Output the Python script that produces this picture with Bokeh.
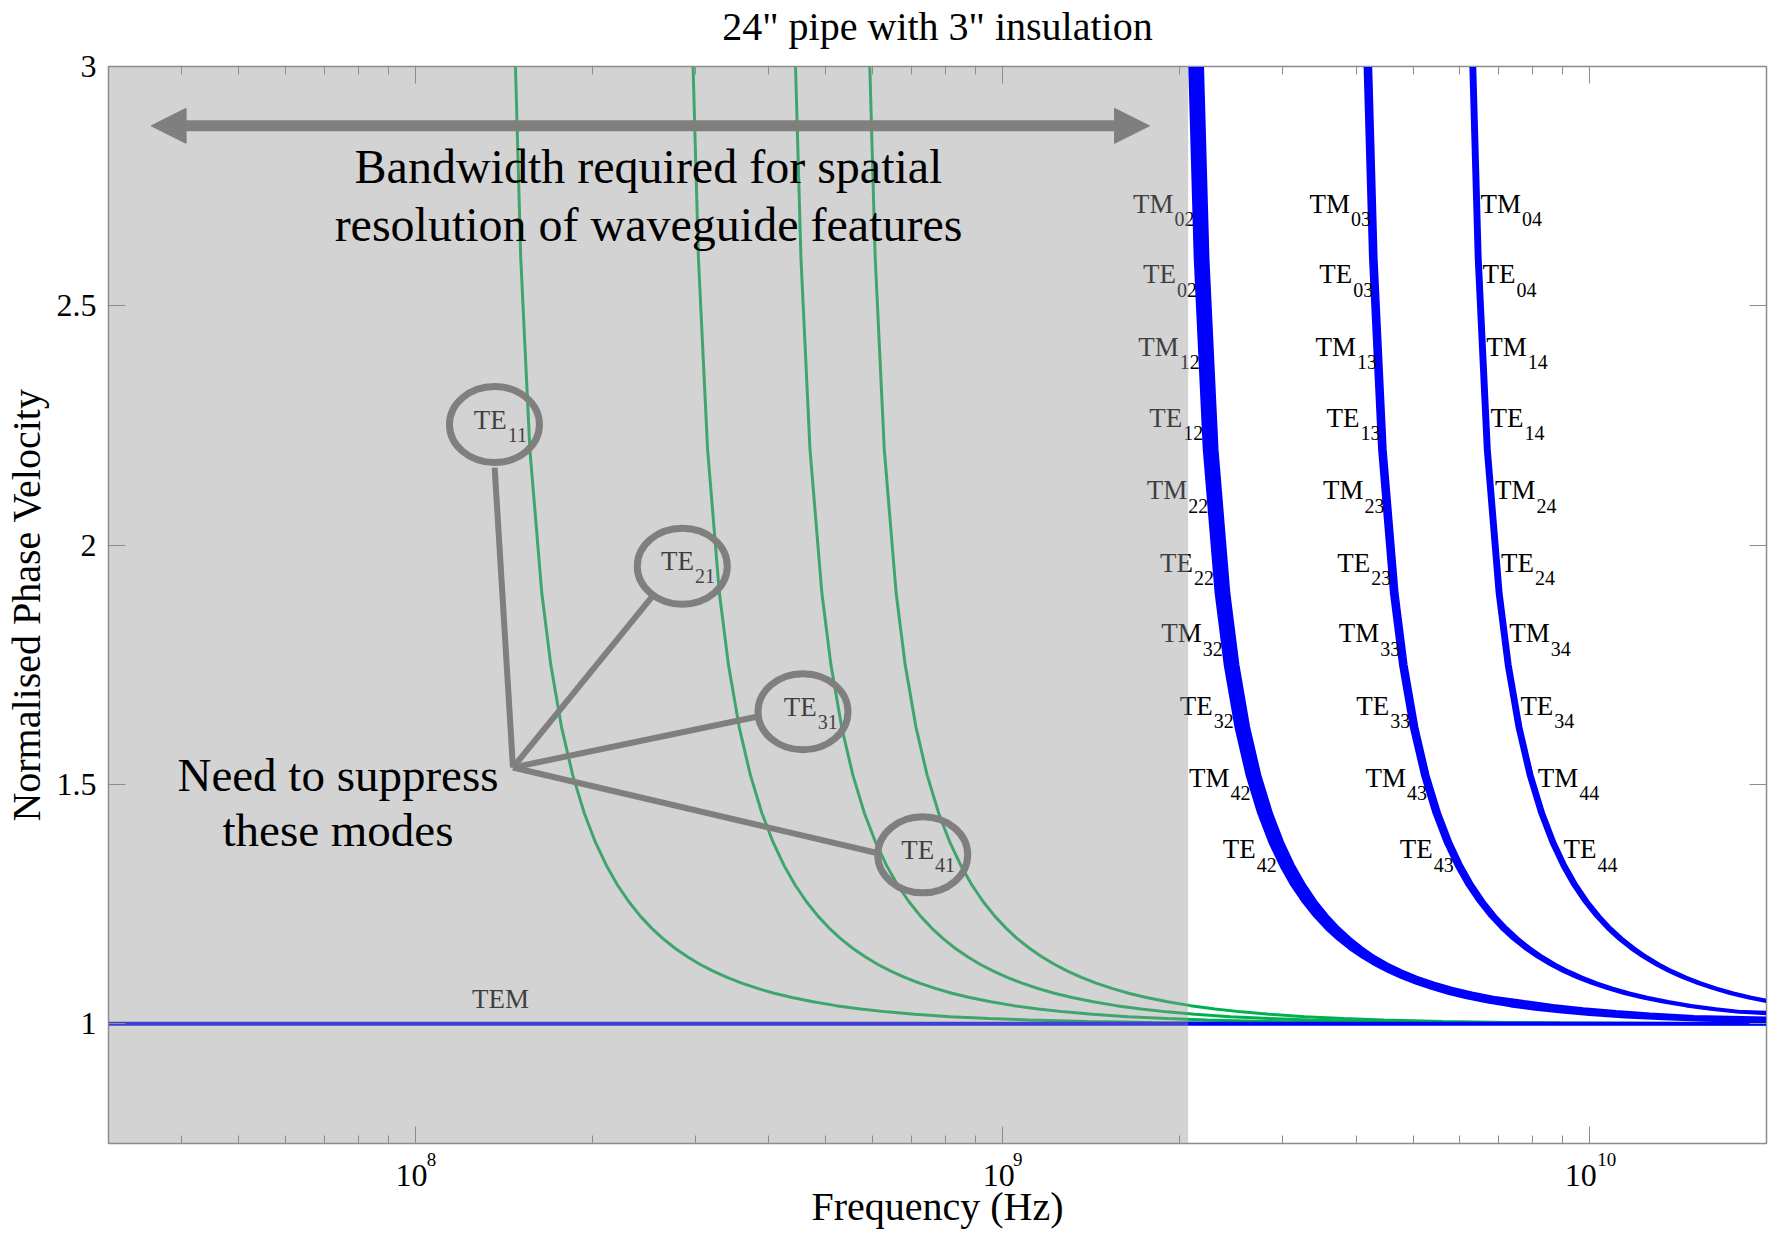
import math
from bokeh.plotting import figure
from bokeh.models import (FixedTicker, LogAxis, LinearAxis, Title,
                          Arrow, NormalHead, Range1d)
from bokeh.core.properties import value
from bokeh.embed import file_html
from bokeh.resources import INLINE

# ---------------- data ----------------
TITLE = '24" pipe with 3" insulation'
X_LABEL = "Frequency (Hz)"
Y_LABEL = "Normalised Phase Velocity"

X_RANGE_GHZ = [0.03, 20.0]
Y_RANGE = [0.75, 3.0]
X_TICKS_GHZ = [0.1, 1.0, 10.0]
X_TICK_BASE = ["10", "10", "10"]
X_TICK_EXP = ["8", "9", "10"]
X_MINOR_GHZ = [0.03, 0.04, 0.05, 0.06, 0.07, 0.08, 0.09,
               0.2, 0.3, 0.4, 0.5, 0.6, 0.7, 0.8, 0.9,
               2.0, 3.0, 4.0, 5.0, 6.0, 7.0, 8.0, 9.0]
Y_TICKS = [1.0, 1.5, 2.0, 2.5, 3.0]
Y_TICK_LABELS = ["1", "1.5", "2", "2.5", "3"]

# normalised phase velocity levels at which the curve frequencies (GHz) were read
VEL = [3.3, 3.0, 2.6, 2.2, 1.9, 1.75, 1.62, 1.52, 1.44, 1.38, 1.33, 1.29,
       1.255, 1.225, 1.2, 1.178, 1.158, 1.14, 1.124, 1.11, 1.097, 1.085, 1.074, 1.064,
       1.055, 1.046, 1.038, 1.031, 1.025, 1.02, 1.015, 1.011, 1.008, 1.005, 1.003, 1.002]
EDGE_F_GHZ = 20.0   # right edge of the plot

# green modes TE11..TE41
TE11_F = [0.1464, 0.1480, 0.1511, 0.1566, 0.1641, 0.1700, 0.1773, 0.1852, 0.1939,
          0.2024, 0.2116, 0.2208, 0.2309, 0.2415, 0.2524, 0.2639, 0.2767, 0.2905,
          0.3055, 0.3214, 0.3393, 0.3595, 0.3824, 0.4084, 0.4378, 0.4756, 0.5203,
          0.5732, 0.6355, 0.7079, 0.8145, 0.9483, 1.109, 1.400, 1.805, 2.209]
TE21_F = [0.2938, 0.2970, 0.3033, 0.3144, 0.3293, 0.3412, 0.3559, 0.3718, 0.3891,
          0.4063, 0.4247, 0.4432, 0.4634, 0.4848, 0.5065, 0.5297, 0.5553, 0.5832,
          0.6133, 0.6451, 0.6811, 0.7217, 0.7676, 0.8197, 0.8787, 0.9547, 1.044,
          1.150, 1.276, 1.421, 1.635, 1.903, 2.227, 2.811, 3.623, 4.434]
TE31_F = [0.4392, 0.4439, 0.4534, 0.4698, 0.4922, 0.5100, 0.5319, 0.5557, 0.5816,
          0.6073, 0.6348, 0.6625, 0.6926, 0.7246, 0.7571, 0.7918, 0.8300, 0.8716,
          0.9166, 0.9642, 1.018, 1.079, 1.147, 1.225, 1.313, 1.427, 1.561,
          1.720, 1.907, 2.124, 2.443, 2.845, 3.328, 4.201, 5.415, 6.627]
TE41_F = [0.5876, 0.5940, 0.6067, 0.6287, 0.6586, 0.6824, 0.7118, 0.7436, 0.7783,
          0.8126, 0.8494, 0.8865, 0.9268, 0.9695, 1.013, 1.059, 1.111, 1.166,
          1.227, 1.290, 1.362, 1.443, 1.535, 1.639, 1.757, 1.909, 2.089,
          2.301, 2.551, 2.842, 3.269, 3.807, 4.454, 5.621, 7.246, 8.868]
GREEN_EDGE_V = [1.0, 1.0, 1.0, 1.0]

# blue mode bundles (TM/TE 02..42, 03..43, 04..44): lower and upper edge
B1_LO_F = [2.063, 2.085, 2.130, 2.207, 2.312, 2.396, 2.499, 2.610, 2.732, 2.853,
           2.982, 3.112, 3.254, 3.404, 3.557, 3.720, 3.899, 4.095, 4.306, 4.530,
           4.782, 5.067, 5.390, 5.755, 6.170, 6.703, 7.333, 8.078, 8.956, 9.977,
           11.48, 13.36, 15.64]
B1_HI_F = [2.165, 2.188, 2.235, 2.316, 2.426, 2.514, 2.622, 2.739, 2.867, 2.994,
           3.129, 3.266, 3.414, 3.572, 3.732, 3.903, 4.091, 4.297, 4.530, 4.780,
           5.070, 5.420, 5.820, 6.300, 6.850, 7.740, 8.660, 9.750, 11.09, 12.67,
           15.06]
B2_LO_F = [4.103, 4.147, 4.236, 4.390, 4.598, 4.765, 4.970, 5.192, 5.434, 5.674,
           5.931, 6.189, 6.471, 6.769, 7.073, 7.397, 7.754, 8.143, 8.564, 9.009,
           9.510, 10.08, 10.72, 11.45, 12.27, 13.33, 14.58, 16.07, 17.81]
B2_HI_F = [4.187, 4.232, 4.322, 4.479, 4.693, 4.862, 5.072, 5.298, 5.545, 5.790,
           6.052, 6.316, 6.603, 6.908, 7.218, 7.549, 7.913, 8.310, 8.739, 9.193,
           9.705, 10.28, 10.94, 11.68, 12.52, 13.60, 14.88, 16.39, 18.18]
B3_LO_F = [6.212, 6.279, 6.413, 6.646, 6.962, 7.214, 7.525, 7.861, 8.227, 8.591,
           8.979, 9.371, 9.798, 10.25, 10.71, 11.20, 11.74, 12.33, 12.97, 13.64,
           14.40, 15.26, 16.23, 17.33, 18.58]
B3_HI_F = [6.296, 6.364, 6.500, 6.736, 7.056, 7.311, 7.626, 7.967, 8.339, 8.707,
           9.101, 9.498, 9.930, 10.39, 10.85, 11.35, 11.90, 12.50, 13.14, 13.82,
           14.59, 15.46, 16.45, 17.57, 18.83]
BUNDLE_EDGE_V = [(1.0055, 1.0115), (1.0215, 1.0235), (1.047, 1.049)]

TEM_F = [0.03, 20.0]
TEM_V = [1.0, 1.0]

# mode labels
ROW_V = [2.695, 2.547, 2.396, 2.247, 2.096, 1.945, 1.797, 1.646, 1.496, 1.346]
ROW_MAIN = ["TM", "TE", "TM", "TE", "TM", "TE", "TM", "TE", "TM", "TE"]
COL1_SUB = ["02", "02", "12", "12", "22", "22", "32", "32", "42", "42"]
COL2_SUB = ["03", "03", "13", "13", "23", "23", "33", "33", "43", "43"]
COL3_SUB = ["04", "04", "14", "14", "24", "24", "34", "34", "44", "44"]
COL1_F = [1.954, 1.974, 1.995, 2.022, 2.062, 2.109, 2.184, 2.280, 2.434, 2.698]
COL2_F = [3.907, 3.938, 3.998, 4.055, 4.116, 4.229, 4.378, 4.556, 4.866, 5.401]
COL3_F = [7.636, 7.476, 7.808, 7.715, 8.083, 8.033, 8.545, 8.670, 9.559, 10.27]

LOW_MAIN = ["TE", "TE", "TE", "TE"]
LOW_SUB = ["11", "21", "31", "41"]
LOW_F = [0.1430, 0.2982, 0.4825, 0.7644]
LOW_V = [2.243, 1.949, 1.644, 1.345]

TEM_LABEL = "TEM"
TEM_LABEL_F = 0.1396
TEM_LABEL_V = 1.033

GRAY_BAND_F = [0.03, 2.07]

# annotations
CIRCLE_F = [0.1363, 0.2847, 0.4570, 0.7310]
CIRCLE_V = [2.252, 1.956, 1.652, 1.353]
HUB_F = 0.14656
HUB_V = 1.5355
LEADER_F = [0.1364, 0.2548, 0.3832, 0.6061]
LEADER_V = [2.162, 1.897, 1.642, 1.358]
ARROW_F = [0.03545, 1.779]
ARROW_V = 2.876
NOTE1 = ["Bandwidth required for spatial", "resolution of waveguide features"]
NOTE1_F = 0.2494
NOTE1_V = [2.758, 2.636]
NOTE2 = ["Need to suppress", "these modes"]
NOTE2_F = 0.07379
NOTE2_V = [1.488, 1.372]

# ---------------- styles ----------------
FONT = "Liberation Serif"
GREEN = "#00b050"
BLUE = "#0000ff"
GRAY = "#7f7f7f"
AXIS_GRAY = "#8c8c8c"
G = 1e9
SHIFT = 0.33   # baseline correction, in em
W, H = 1773, 1238
BORDER_L, BORDER_R = 108, 7
BASE_DX = [-4, -4, -9]      # px shift of the "10" part of each tick label
EXP_DX = [16, 15, 17]       # px shift of the exponent part of each tick label

p = figure(width=W, height=H, x_axis_type="log",
           x_range=Range1d(X_RANGE_GHZ[0] * G, X_RANGE_GHZ[1] * G),
           y_range=Range1d(Y_RANGE[0], Y_RANGE[1]),
           output_backend="svg", toolbar_location=None,
           min_border_left=BORDER_L, min_border_right=BORDER_R,
           min_border_top=66, min_border_bottom=95,
           background_fill_color="white", border_fill_color="white",
           outline_line_color=AXIS_GRAY, outline_line_width=1.5)
p.grid.grid_line_color = None

p.title = Title(text=TITLE, align="center", text_font=FONT, text_font_size="40px",
                text_font_style="normal", text_color="black", standoff=0)


def style_axis(ax):
    ax.axis_line_color = AXIS_GRAY
    ax.major_tick_line_color = AXIS_GRAY
    ax.minor_tick_line_color = AXIS_GRAY
    ax.major_tick_in = 17
    ax.major_tick_out = 0
    ax.minor_tick_in = 8
    ax.minor_tick_out = 0
    ax.major_label_text_font = FONT
    ax.major_label_text_font_size = "32px"
    ax.major_label_text_color = "black"
    ax.axis_label_text_font = FONT
    ax.axis_label_text_font_size = "40px"
    ax.axis_label_text_font_style = "normal"
    ax.axis_label_text_color = "black"


def no_marks(ax):
    ax.axis_line_color = None
    ax.major_tick_line_color = None
    ax.minor_tick_line_color = None


x_ticks = [t * G for t in X_TICKS_GHZ]
x_minor = [t * G for t in X_MINOR_GHZ]
px_per_decade = (W - BORDER_L - BORDER_R) / math.log10(X_RANGE_GHZ[1] / X_RANGE_GHZ[0])
base_pos = [t * 10 ** (d / px_per_decade) for t, d in zip(x_ticks, BASE_DX)]
exp_pos = [t * 10 ** (d / px_per_decade) for t, d in zip(x_ticks, EXP_DX)]

# bottom: tick marks axis, exponent row, "10" row + axis title
ax_marks = LogAxis(ticker=FixedTicker(ticks=x_ticks, minor_ticks=x_minor))
style_axis(ax_marks)
ax_marks.major_label_overrides = {t: "" for t in x_ticks}
ax_marks.major_label_text_font_size = "2px"
ax_marks.major_label_text_color = None
ax_marks.major_label_standoff = 0

ax_exp = LogAxis(ticker=FixedTicker(ticks=exp_pos))
style_axis(ax_exp)
no_marks(ax_exp)
ax_exp.major_label_overrides = dict(zip(exp_pos, X_TICK_EXP))
ax_exp.major_label_text_font_size = "19px"
ax_exp.major_label_standoff = 9

xa = p.xaxis[0]
style_axis(xa)
no_marks(xa)
xa.ticker = FixedTicker(ticks=base_pos)
xa.major_label_overrides = dict(zip(base_pos, X_TICK_BASE))
xa.axis_label = X_LABEL
xa.major_label_standoff = -4
xa.axis_label_standoff = -5

p.below = [ax_marks, ax_exp, xa]

ya = p.yaxis[0]
style_axis(ya)
ya.ticker = FixedTicker(ticks=Y_TICKS)
ya.major_label_overrides = dict(zip(Y_TICKS, Y_TICK_LABELS))
ya.axis_label = Y_LABEL
ya.major_label_standoff = 12
ya.axis_label_standoff = 5

# top: tick marks only; blank (white, non-breaking space) labels lift the title
top = LogAxis(ticker=FixedTicker(ticks=x_ticks, minor_ticks=x_minor))
style_axis(top)
top.major_label_overrides = {t: "\u00a0" for t in x_ticks}
top.major_label_text_font_size = "2px"
top.major_label_text_color = "white"
top.major_label_standoff = 13
p.add_layout(top, "above")

right = LinearAxis(ticker=FixedTicker(ticks=Y_TICKS))
style_axis(right)
right.major_label_overrides = {t: "" for t in Y_TICKS}
right.major_label_text_font_size = "2px"
right.major_label_text_color = None
right.major_label_standoff = 0
p.add_layout(right, "right")


def curve(fs, edge_v):
    xs = [f * G for f in fs] + [EDGE_F_GHZ * G]
    ys = VEL[:len(fs)] + [edge_v]
    return xs, ys


# green modes
for fs, ev in zip([TE11_F, TE21_F, TE31_F, TE41_F], GREEN_EDGE_V):
    xs, ys = curve(fs, ev)
    p.line(xs, ys, line_color=GREEN, line_width=3)

# TEM
p.line([f * G for f in TEM_F], TEM_V, line_color=BLUE, line_width=4)

# blue bundles
for lo, hi, (elo, ehi) in [(B1_LO_F, B1_HI_F, BUNDLE_EDGE_V[0]),
                           (B2_LO_F, B2_HI_F, BUNDLE_EDGE_V[1]),
                           (B3_LO_F, B3_HI_F, BUNDLE_EDGE_V[2])]:
    xl, yl = curve(lo, elo)
    xh, yh = curve(hi, ehi)
    p.patch(xl + xh[::-1], yl + yh[::-1], fill_color=BLUE, line_color=None)
    p.line(xl, yl, line_color=BLUE, line_width=3.5)
    p.line(xh, yh, line_color=BLUE, line_width=3.5)


def txt(xs, ys, texts, size, align, dy=0.0, dx=0.0):
    p.text(x=xs, y=ys, text=texts, text_align=align, text_baseline="alphabetic",
           text_font=value(FONT), text_font_size=f"{size}px", text_color="black",
           x_offset=dx, y_offset=dy - SHIFT * size)


# mode labels
lab_main = ROW_MAIN * 3 + LOW_MAIN
lab_sub = COL1_SUB + COL2_SUB + COL3_SUB + LOW_SUB
lab_f = [f * G for f in COL1_F + COL2_F + COL3_F + LOW_F]
lab_v = ROW_V * 3 + LOW_V
txt(lab_f, lab_v, lab_main, 27, "right")
txt(lab_f, lab_v, lab_sub, 20, "left", dy=13, dx=1)
txt([TEM_LABEL_F * G], [TEM_LABEL_V], [TEM_LABEL], 27, "center")

# translucent gray band
p.quad(left=[GRAY_BAND_F[0] * G], right=[GRAY_BAND_F[1] * G],
       bottom=[Y_RANGE[0]], top=[Y_RANGE[1]],
       fill_color="#969696", fill_alpha=0.42, line_color=None)

# circles and leaders
p.ellipse(x=[f * G for f in CIRCLE_F], y=CIRCLE_V, width=90, height=76,
          width_units="screen", height_units="screen",
          fill_color=None, line_color=GRAY, line_width=7)
p.segment(x0=[HUB_F * G] * len(LEADER_F), y0=[HUB_V] * len(LEADER_V),
          x1=[f * G for f in LEADER_F], y1=LEADER_V,
          line_color=GRAY, line_width=6)

# notes
txt([NOTE1_F * G] * 2, NOTE1_V, NOTE1, 48, "center")
txt([NOTE2_F * G] * 2, NOTE2_V, NOTE2, 47, "center")

# double arrow
p.add_layout(Arrow(start=NormalHead(size=35, fill_color=GRAY, line_color=GRAY),
                   end=NormalHead(size=35, fill_color=GRAY, line_color=GRAY),
                   x_start=ARROW_F[0] * G, y_start=ARROW_V,
                   x_end=ARROW_F[1] * G, y_end=ARROW_V,
                   line_color=GRAY, line_width=11))

open("out.html", "w").write(file_html(p, INLINE))
